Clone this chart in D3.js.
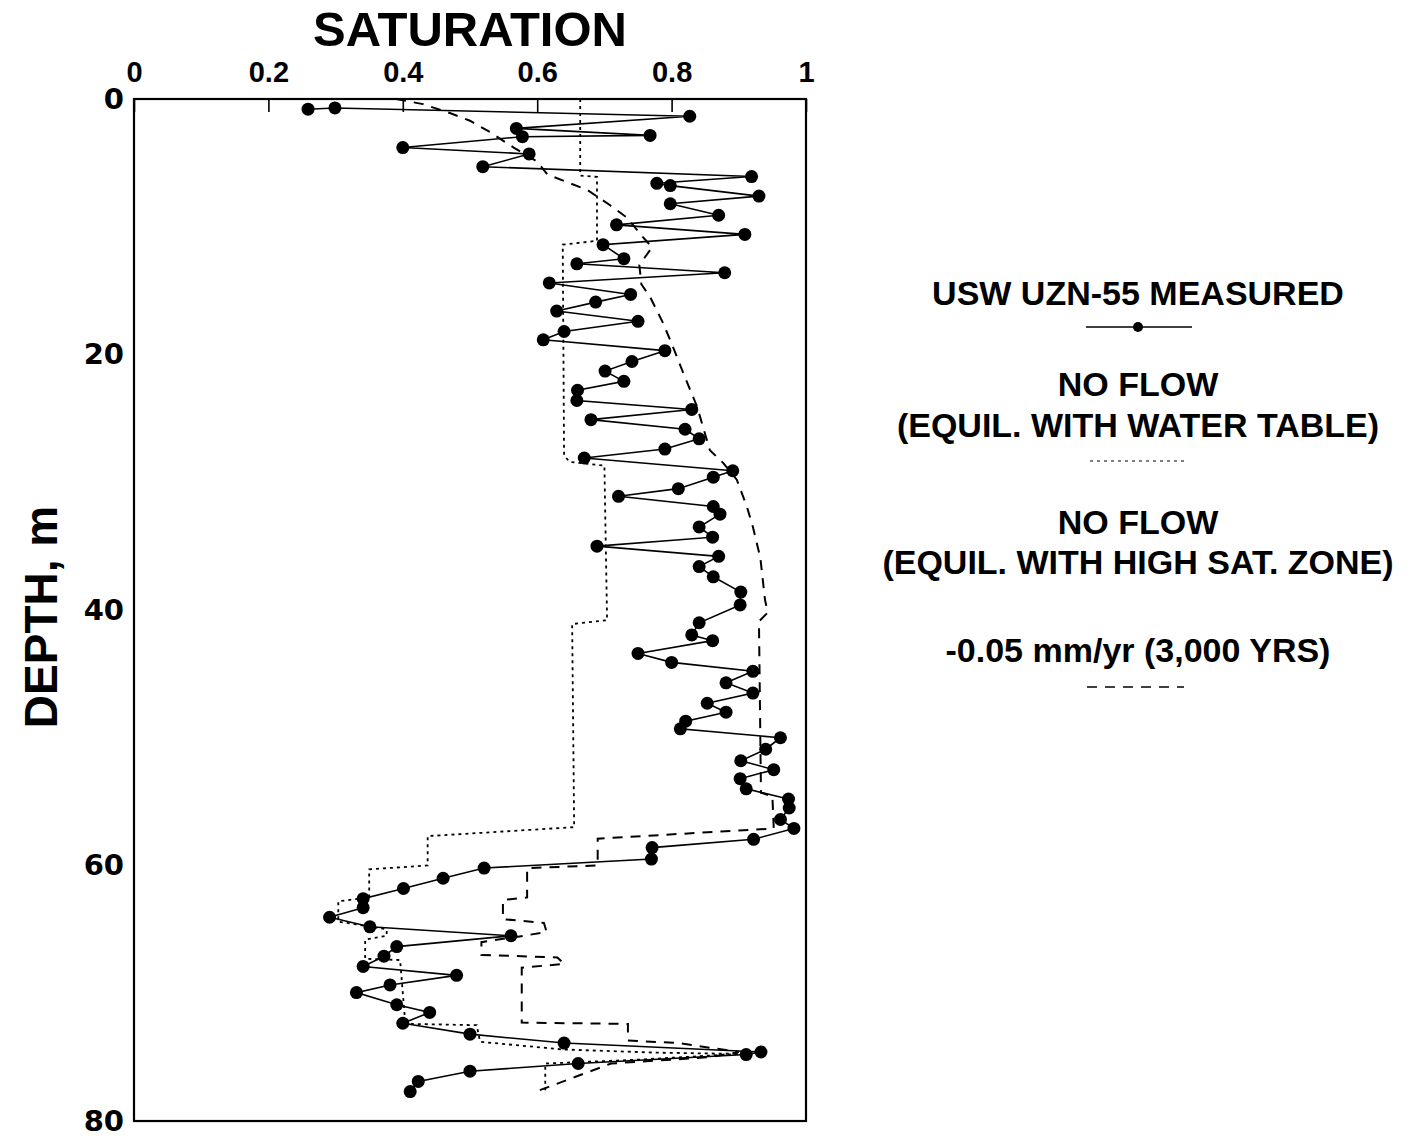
<!DOCTYPE html>
<html>
<head>
<meta charset="utf-8">
<script src="https://cdn.jsdelivr.net/npm/d3@7"></script>
<style>
  html, body { margin: 0; padding: 0; background: #fff; }
  svg { display: block; }
  text { font-family: "Liberation Sans", Arial, Helvetica, sans-serif; font-weight: bold; fill: #000; }
</style>
</head>
<body>
<svg id="chart" width="1416" height="1142"></svg>
<script>
// Axis ticks
const satTicks = [0, 0.2, 0.4, 0.6, 0.8, 1];
const depthTicks = [0, 20, 40, 60, 80];

// USW UZN-55 measured saturation profile, in borehole order
const measuredDepth = [
  0.8, 0.7, 1.35, 2.3, 2.85, 2.95, 3.8, 4.3, 5.3, 6.07,
  6.6, 6.78, 7.6, 8.2, 9.1, 9.85, 10.6, 11.4, 12.5, 12.9,
  13.6, 14.4, 15.3, 15.9, 16.6, 17.4, 18.2, 18.85, 19.7, 20.55,
  21.3, 22.1, 22.8, 23.6, 24.3, 25.1, 25.85, 26.6, 27.4, 28.1,
  29.1, 29.6, 30.5, 31.1, 31.9, 32.5, 33.5, 34.3, 35.0, 35.8,
  36.6, 37.4, 38.6, 39.6, 41.0, 41.95, 42.4, 43.4, 44.1, 44.8,
  45.7, 46.5, 47.3, 48.0, 48.7, 49.3, 50.0, 50.9, 51.8, 52.5,
  53.2, 54.0, 54.8, 55.5, 56.4, 57.1, 57.95, 58.6, 59.5, 60.2,
  61.0, 61.8, 62.6, 63.3, 64.05, 64.8, 65.5, 66.35, 67.1, 67.9,
  68.6, 69.35, 69.95, 70.9, 71.5, 72.35, 73.2, 73.9, 74.6, 74.8,
  75.5, 76.1, 76.9, 77.7
];
const measuredSat = [
  0.259, 0.299, 0.827, 0.569, 0.768, 0.578, 0.400, 0.588, 0.519, 0.919,
  0.778, 0.798, 0.930, 0.798, 0.870, 0.718, 0.909, 0.698, 0.729, 0.659,
  0.879, 0.618, 0.739, 0.687, 0.629, 0.750, 0.640, 0.609, 0.790, 0.741,
  0.701, 0.729, 0.660, 0.659, 0.830, 0.680, 0.820, 0.841, 0.790, 0.670,
  0.891, 0.862, 0.810, 0.721, 0.862, 0.872, 0.841, 0.861, 0.689, 0.870,
  0.841, 0.862, 0.903, 0.902, 0.841, 0.830, 0.861, 0.750, 0.800, 0.921,
  0.881, 0.921, 0.853, 0.881, 0.821, 0.813, 0.962, 0.940, 0.903, 0.952,
  0.902, 0.911, 0.974, 0.975, 0.962, 0.982, 0.922, 0.771, 0.770, 0.521,
  0.460, 0.401, 0.341, 0.341, 0.291, 0.351, 0.561, 0.391, 0.372, 0.341,
  0.480, 0.381, 0.331, 0.391, 0.440, 0.400, 0.500, 0.640, 0.933, 0.911,
  0.661, 0.500, 0.423, 0.411
];

// No-flow profile in equilibrium with the water table (saturation, depth)
const waterTableProfile = [
  [0.664, 0], [0.664, 6.0], [0.689, 6.1], [0.689, 11.1], [0.638, 11.4],
  [0.640, 27.9], [0.648, 28.4], [0.700, 28.7], [0.704, 40.8], [0.652, 41.1],
  [0.655, 57.0], [0.437, 57.7], [0.437, 60.0], [0.350, 60.3], [0.350, 62.5],
  [0.304, 62.8], [0.304, 64.4], [0.330, 64.6], [0.376, 65.0], [0.376, 65.5],
  [0.344, 65.8], [0.344, 67.3], [0.396, 67.4], [0.403, 71.9], [0.413, 72.4],
  [0.510, 72.5], [0.515, 73.8], [0.638, 74.4], [0.778, 74.65], [0.900, 74.75],
  [0.750, 75.2], [0.612, 75.5], [0.612, 77.6]
];

// -0.05 mm/yr flux profile after 3,000 years (saturation, depth)
const fluxProfile = [
  [0.390, 0], [0.430, 0.4], [0.470, 1.1], [0.500, 1.7], [0.530, 2.6],
  [0.565, 3.8], [0.600, 4.9], [0.615, 5.9], [0.644, 6.5], [0.674, 7.1],
  [0.708, 8.3], [0.734, 9.3], [0.757, 10.8], [0.771, 11.6], [0.752, 13.0],
  [0.755, 14.5], [0.768, 15.5], [0.787, 17.5], [0.802, 19.4], [0.817, 21.4],
  [0.838, 24.1], [0.857, 27.5], [0.877, 28.5], [0.897, 29.8], [0.912, 31.9],
  [0.921, 33.5], [0.932, 35.9], [0.939, 39.2], [0.943, 40.2], [0.930, 40.9],
  [0.933, 54.3], [0.950, 54.6], [0.952, 57.1], [0.690, 57.9], [0.690, 60.0],
  [0.585, 60.2], [0.585, 62.5], [0.549, 62.7], [0.549, 64.2], [0.610, 64.5],
  [0.614, 65.2], [0.580, 65.5], [0.517, 66.0], [0.517, 67.0], [0.630, 67.2],
  [0.640, 67.7], [0.577, 68.0], [0.577, 72.3], [0.735, 72.4], [0.735, 73.7],
  [0.810, 73.9], [0.900, 74.6], [0.857, 75.0], [0.710, 75.5], [0.603, 77.6]
];

// Legend entries
const legendLabels = [
  ["USW UZN-55 MEASURED"],
  ["NO FLOW", "(EQUIL. WITH WATER TABLE)"],
  ["NO FLOW", "(EQUIL. WITH HIGH SAT. ZONE)"],
  ["-0.05 mm/yr (3,000 YRS)"]
];

const svg = d3.select("#chart");

const x = d3.scaleLinear().domain([0, 1]).range([134, 806]);
const y = d3.scaleLinear().domain([0, 80]).range([99, 1121]);

// Top axis: inward ticks, labels above the frame
const topAxis = svg.append("g")
  .attr("transform", `translate(0,${y(0)})`)
  .call(d3.axisTop(x).tickValues(satTicks).tickSize(-13).tickPadding(17)
    .tickFormat(d => String(d)));
topAxis.select(".domain").remove();
topAxis.selectAll("line").attr("stroke", "#000").attr("stroke-width", 1.6);
topAxis.selectAll("text")
  .style("font-family", "'Liberation Sans', Arial, sans-serif")
  .style("font-weight", "bold")
  .style("font-size", "29px")
  .attr("fill", "#000");

// Left axis: labels only
const leftAxis = svg.append("g")
  .attr("transform", `translate(${x(0)},0)`)
  .call(d3.axisLeft(y).tickValues(depthTicks).tickSize(0).tickPadding(10));
leftAxis.select(".domain").remove();
leftAxis.selectAll("text")
  .style("font-family", "'DejaVu Sans', sans-serif")
  .style("font-weight", "bold")
  .style("font-size", "29px")
  .attr("fill", "#000");

// Plot frame
svg.append("rect")
  .attr("x", x(0)).attr("y", y(0))
  .attr("width", x(1) - x(0)).attr("height", y(80) - y(0))
  .attr("fill", "none").attr("stroke", "#000").attr("stroke-width", 2.2);

// Axis titles
svg.append("text")
  .attr("x", (x(0) + x(1)) / 2).attr("y", 46)
  .attr("text-anchor", "middle")
  .style("font-size", "49px")
  .text("SATURATION");

svg.append("text")
  .attr("transform", `translate(57,${617}) rotate(-90)`)
  .attr("text-anchor", "middle")
  .style("font-size", "46px")
  .text("DEPTH, m");

const pairLine = d3.line().x(d => x(d[0])).y(d => y(d[1]));

// Model profiles
svg.append("path")
  .datum(waterTableProfile)
  .attr("d", pairLine)
  .attr("fill", "none").attr("stroke", "#000")
  .attr("stroke-width", 1.8).attr("stroke-dasharray", "3,4");

svg.append("path")
  .datum(fluxProfile)
  .attr("d", pairLine)
  .attr("fill", "none").attr("stroke", "#000")
  .attr("stroke-width", 2).attr("stroke-dasharray", "10,8");

// Measured profile
const measured = measuredDepth.map((d, i) => ({ depth: d, sat: measuredSat[i] }));
svg.append("path")
  .datum(measured)
  .attr("d", d3.line().x(d => x(d.sat)).y(d => y(d.depth)))
  .attr("fill", "none").attr("stroke", "#000").attr("stroke-width", 1.6);

svg.append("g").selectAll("circle")
  .data(measured)
  .join("circle")
  .attr("cx", d => x(d.sat)).attr("cy", d => y(d.depth))
  .attr("r", 6.5).attr("fill", "#000");

// Legend
const lx = 1138;
const legend = svg.append("g").style("font-size", "34px");
const textRows = [
  [legendLabels[0][0], 305],
  [legendLabels[1][0], 396],
  [legendLabels[1][1], 437],
  [legendLabels[2][0], 534],
  [legendLabels[2][1], 574],
  [legendLabels[3][0], 662]
];
textRows.forEach(([t, ty]) => {
  legend.append("text").attr("x", lx).attr("y", ty)
    .attr("text-anchor", "middle").text(t);
});

legend.append("line")
  .attr("x1", 1086).attr("x2", 1192).attr("y1", 327).attr("y2", 327)
  .attr("stroke", "#000").attr("stroke-width", 1.4);
legend.append("circle").attr("cx", lx).attr("cy", 327).attr("r", 5).attr("fill", "#000");

legend.append("line")
  .attr("x1", 1090).attr("x2", 1184).attr("y1", 461).attr("y2", 461)
  .attr("stroke", "#000").attr("stroke-width", 1.2).attr("stroke-dasharray", "3,4");

legend.append("line")
  .attr("x1", 1087).attr("x2", 1184).attr("y1", 687).attr("y2", 687)
  .attr("stroke", "#000").attr("stroke-width", 1.4).attr("stroke-dasharray", "10,8");
</script>
</body>
</html>
